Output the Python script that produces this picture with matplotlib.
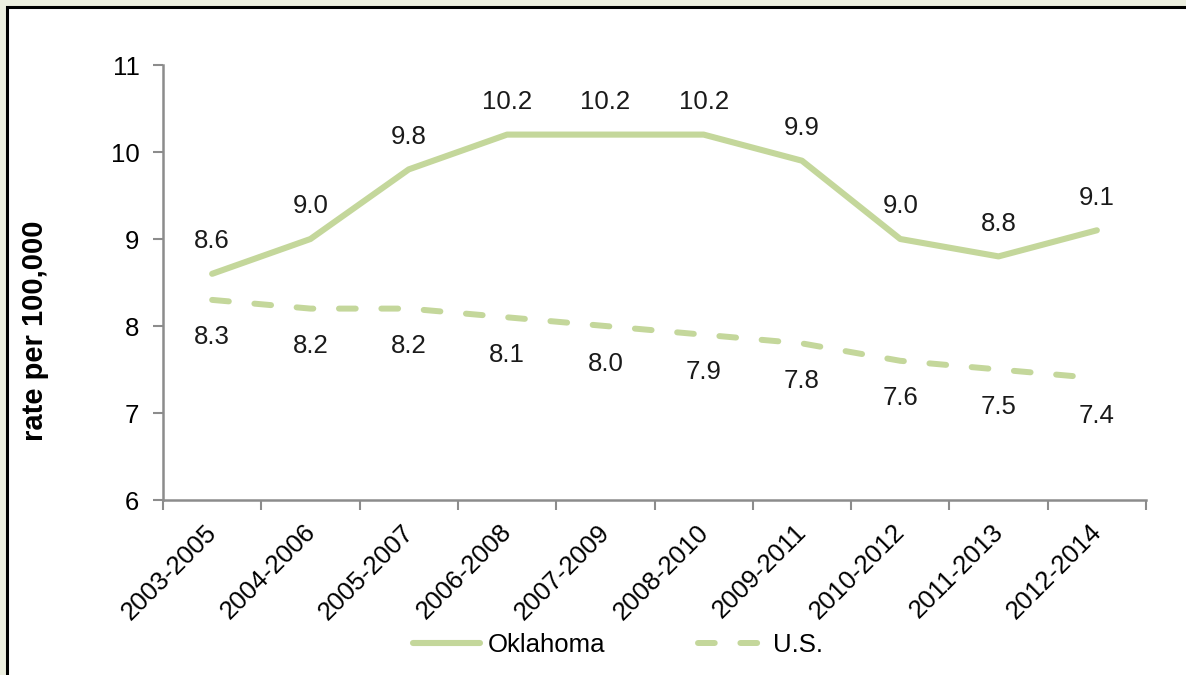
import matplotlib
matplotlib.use('Agg')
import matplotlib.pyplot as plt
import matplotlib.transforms as mtransforms
from matplotlib.patches import Rectangle

plt.rcParams['font.family'] = ['Liberation Sans', 'DejaVu Sans']

# dati
periods = ['2003-2005', '2004-2006', '2005-2007', '2006-2008', '2007-2009',
           '2008-2010', '2009-2011', '2010-2012', '2011-2013', '2012-2014']
oklahoma = [8.6, 9.0, 9.8, 10.2, 10.2, 10.2, 9.9, 9.0, 8.8, 9.1]
us = [8.3, 8.2, 8.2, 8.1, 8.0, 7.9, 7.8, 7.6, 7.5, 7.4]
y_ticks = [6, 7, 8, 9, 10, 11]

green = '#C4D79B'
axis_grey = '#8C8C8C'
W, H = 1186, 675

fig = plt.figure(figsize=(W / 100, H / 100), dpi=100)
fig.patch.set_facecolor('#ECEFDF')
# riquadro bianco con bordo nero (tagliato a destra e in basso)
fig.patches.append(Rectangle((7 / W, -0.01), 1.02, 1 - 7 / H + 0.01,
                             transform=fig.transFigure, facecolor='white',
                             edgecolor='black', linewidth=2.2, zorder=-10))

ax = fig.add_axes([163 / W, 1 - 500 / H, (1146 - 163) / W, (500 - 65) / H])
ax.set_facecolor('none')

x = [i + 0.5 for i in range(len(periods))]
ax.plot(x, oklahoma, color=green, lw=4.4, solid_capstyle='round',
        solid_joinstyle='round', label='Oklahoma', zorder=3)
ax.plot(x, us, color=green, lw=4.3, linestyle=(0, (2.8, 4.3)),
        dash_capstyle='round', label='U.S.', zorder=3)

# etichette dei valori
for xi, v in zip(x, oklahoma):
    ax.annotate(f'{v:.1f}', (xi, v), xytext=(0, 23.5), textcoords='offset points',
                ha='center', va='center', fontsize=18.5, color='#1a1a1a')
for xi, v in zip(x, us):
    ax.annotate(f'{v:.1f}', (xi, v), xytext=(0, -27), textcoords='offset points',
                ha='center', va='center', fontsize=18.5, color='#1a1a1a')

ax.set_xlim(0, len(periods))
ax.set_ylim(6, 11)
ax.set_yticks(y_ticks)
ax.set_yticklabels([str(t) for t in y_ticks], fontsize=18.5)
ax.set_xticks(range(len(periods) + 1))
ax.set_xticklabels([])
ax.set_xticks(x, minor=True)
ax.set_xticklabels(periods, minor=True, rotation=45, ha='right', va='center',
                   rotation_mode='anchor', fontsize=18.5)
ax.tick_params(axis='x', which='minor', length=0, pad=20.5)
ax.tick_params(axis='x', which='major', length=7, width=1.5, color=axis_grey, direction='out')
ax.tick_params(axis='y', length=7, width=1.5, color=axis_grey, direction='out', pad=10)

# piccolo spostamento delle etichette ruotate
shift = mtransforms.ScaledTranslation(1 / 100, 0, fig.dpi_scale_trans)
for lbl in ax.get_xticklabels(minor=True):
    lbl.set_transform(lbl.get_transform() + shift)

for side in ['top', 'right']:
    ax.spines[side].set_visible(False)
for side in ['left', 'bottom']:
    ax.spines[side].set_color(axis_grey)
    ax.spines[side].set_linewidth(1.8)

ax.set_ylabel('rate per 100,000', fontsize=21, fontweight='bold')
ax.yaxis.set_label_coords(-114 / (1146 - 163), 0.39)

fig.legend(loc='center', bbox_to_anchor=(618 / W, 1 - 645 / H), ncol=2, frameon=False,
           fontsize=18.5, handlelength=2.6, columnspacing=3.6, handletextpad=0.3)

fig.savefig('out.png', dpi=100)
